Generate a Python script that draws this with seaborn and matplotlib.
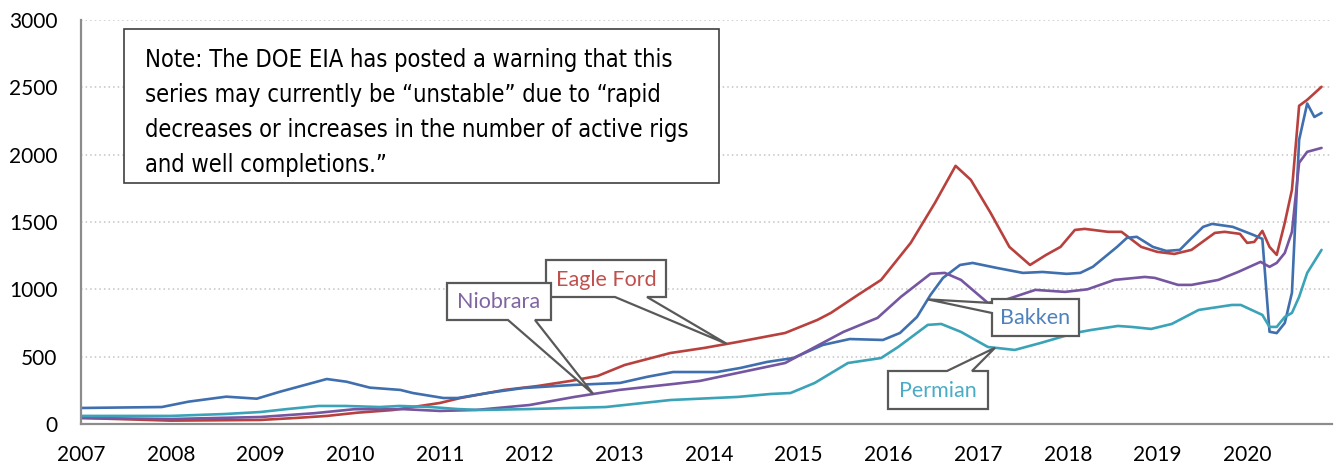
import numpy as np
import pandas as pd
import matplotlib
matplotlib.use("Agg")
import matplotlib.pyplot as plt
import seaborn as sns
from matplotlib import font_manager
from matplotlib.patches import Rectangle, Polygon

# ---------------- data ----------------
basins = ["Eagle Ford", "Bakken", "Niobrara", "Permian"]

eagle_t = [2007.0, 2008.0, 2009.0, 2009.4, 2009.74, 2010.08, 2010.48, 2010.78, 2011.0, 2011.23,
           2011.72, 2012.09, 2012.46, 2012.76, 2013.06, 2013.57, 2013.95, 2014.32, 2014.85, 2015.21,
           2015.36, 2015.66, 2015.92, 2016.25, 2016.52, 2016.75, 2016.92, 2017.14, 2017.35, 2017.58,
           2017.76, 2017.92, 2018.08, 2018.19, 2018.45, 2018.6, 2018.82, 2019.0, 2019.19, 2019.38,
           2019.64, 2019.75, 2019.92, 2020.0, 2020.08, 2020.17, 2020.25, 2020.33, 2020.42, 2020.5,
           2020.58, 2020.67, 2020.83]
eagle_v = [45, 25, 30, 45, 60, 84, 104, 134, 156, 193,
           253, 282, 320, 357, 438, 527, 565, 609, 676, 773,
           825, 958, 1070, 1345, 1642, 1917, 1813, 1568, 1315, 1181,
           1256, 1315, 1441, 1449, 1427, 1427, 1315, 1278, 1263, 1293,
           1419, 1427, 1412, 1345, 1352, 1434, 1315, 1256, 1494, 1739,
           2363, 2407, 2504]

bakken_t = [2007.0, 2007.9, 2008.2, 2008.62, 2008.96, 2009.22, 2009.74, 2009.96, 2010.22, 2010.56,
            2010.7, 2011.04, 2011.2, 2011.56, 2011.93, 2012.49, 2013.01, 2013.31, 2013.6, 2014.09,
            2014.35, 2014.65, 2014.94, 2015.27, 2015.57, 2015.94, 2016.13, 2016.32, 2016.47, 2016.61,
            2016.8, 2016.94, 2017.21, 2017.5, 2017.72, 2017.99, 2018.14, 2018.28, 2018.55, 2018.66,
            2018.77, 2018.95, 2019.1, 2019.25, 2019.36, 2019.51, 2019.61, 2019.84, 2020.07, 2020.17,
            2020.25, 2020.33, 2020.42, 2020.5, 2020.58, 2020.67, 2020.75, 2020.83]
bakken_v = [119, 126, 166, 203, 188, 240, 334, 314, 270, 253,
            230, 193, 193, 233, 267, 290, 305, 350, 386, 386,
            416, 461, 490, 587, 631, 624, 676, 795, 958, 1085,
            1181, 1196, 1159, 1122, 1129, 1115, 1122, 1167, 1315, 1382,
            1390, 1315, 1285, 1293, 1367, 1464, 1486, 1464, 1404, 1375,
            685, 675, 750, 975, 2110, 2380, 2280, 2310]

niobrara_t = [2007.0, 2008.0, 2009.0, 2009.6, 2010.05, 2010.6, 2011.0, 2011.4, 2012.0, 2012.5,
              2013.0, 2013.6, 2013.9, 2014.32, 2014.85, 2015.22, 2015.5, 2015.88, 2016.14, 2016.47,
              2016.63, 2016.81, 2017.11, 2017.3, 2017.64, 2017.97, 2018.22, 2018.52, 2018.86, 2018.97,
              2019.23, 2019.38, 2019.68, 2019.9, 2020.15, 2020.25, 2020.33, 2020.42, 2020.5, 2020.58,
              2020.67, 2020.83]
niobrara_v = [45, 37, 52, 80, 110, 110, 97, 104, 141, 201,
              253, 297, 320, 379, 453, 585, 684, 788, 944, 1115,
              1122, 1070, 899, 921, 996, 981, 1000, 1070, 1092, 1085,
              1033, 1033, 1070, 1129, 1204, 1167, 1196, 1270, 1427, 1940,
              2021, 2050]

permian_t = [2007.0, 2008.0, 2008.6, 2009.0, 2009.3, 2009.65, 2009.95, 2010.33, 2010.55, 2010.9,
             2011.2, 2011.45, 2012.0, 2012.85, 2013.57, 2014.32, 2014.69, 2014.91, 2015.18, 2015.55,
             2015.92, 2016.11, 2016.44, 2016.59, 2016.81, 2017.11, 2017.41, 2017.7, 2017.89, 2018.08,
             2018.26, 2018.56, 2018.71, 2018.93, 2019.16, 2019.46, 2019.68, 2019.83, 2019.93, 2020.17,
             2020.25, 2020.33, 2020.42, 2020.5, 2020.58, 2020.67, 2020.83]
permian_v = [60, 60, 74, 89, 111, 134, 134, 126, 134, 126,
             111, 104, 111, 126, 178, 201, 223, 230, 305, 453,
             490, 572, 736, 743, 684, 572, 550, 602, 639, 676,
             698, 728, 721, 706, 743, 847, 869, 884, 884, 810,
             721, 721, 795, 825, 944, 1122, 1293]

year_ticks = list(range(2007, 2021))
value_ticks = [0, 500, 1000, 1500, 2000, 2500, 3000]

note_lines = ["Note: The DOE EIA has posted a warning that this",
              "series may currently be \u201cunstable\u201d due to \u201crapid",
              "decreases or increases in the number of active rigs",
              "and well completions.\u201d"]

# ---------------- styling ----------------
line_colors = {"Eagle Ford": "#B8413E", "Bakken": "#3F6FAE",
               "Niobrara": "#7556A0", "Permian": "#3BA3B8"}
label_colors = {"Eagle Ford": "#C0504D", "Bakken": "#4F81BD",
                "Niobrara": "#8064A2", "Permian": "#4BACC6"}

W, H = 1336, 469
sns.set_theme(style="white")
plt.rcParams["font.family"] = ["Lato", "DejaVu Sans"]

# pick a condensed face for the note if one is installed
note_font = None
for key in ["LiberationSansNarrow-Regular", "DejaVuSansCondensed.", "RobotoCondensed-Regular",
            "OpenSans_Condensed-Regular", "NotoSans-Condensed.", "NotoSansDisplay-Condensed."]:
    for f in font_manager.fontManager.ttflist:
        if key.lower() in f.fname.lower().replace("\\", "/").split("/")[-1]:
            note_font = font_manager.FontProperties(fname=f.fname)
            break
    if note_font is not None:
        break
if note_font is None:
    note_font = font_manager.FontProperties(family="Roboto")

df = pd.concat([
    pd.DataFrame({"year": eagle_t, "value": eagle_v, "basin": "Eagle Ford"}),
    pd.DataFrame({"year": bakken_t, "value": bakken_v, "basin": "Bakken"}),
    pd.DataFrame({"year": niobrara_t, "value": niobrara_v, "basin": "Niobrara"}),
    pd.DataFrame({"year": permian_t, "value": permian_v, "basin": "Permian"}),
], ignore_index=True)

fig = plt.figure(figsize=(W / 100, H / 100), dpi=100)
fig.patch.set_facecolor("white")
ax = fig.add_axes([81 / W, 1 - 424 / H, (1332 - 81) / W, (424 - 20) / H])

sns.lineplot(data=df, x="year", y="value", hue="basin", hue_order=basins,
             palette=line_colors, linewidth=1.9, legend=False, ax=ax,
             estimator=None, sort=False)

ax.set_xlim(2007, 2007 + (1332 - 81) / 89.7)
ax.set_ylim(0, 3000)
ax.set_xticks(year_ticks)
ax.set_xticklabels([str(y) for y in year_ticks])
ax.set_yticks(value_ticks)
ax.set_yticklabels([str(v) for v in value_ticks])
ax.set_xlabel("")
ax.set_ylabel("")

ax.yaxis.grid(True, linestyle=(0, (1, 2)), color="#C4C4C4", linewidth=1.1)
ax.xaxis.grid(False)
for s in ["top", "right"]:
    ax.spines[s].set_visible(False)
for s in ["left", "bottom"]:
    ax.spines[s].set_color("#8C8C8C")
    ax.spines[s].set_linewidth(1.6)
ax.tick_params(axis="both", direction="out", color="#8C8C8C", width=1.5,
               labelsize=15, labelcolor="black")
ax.tick_params(axis="y", length=5, pad=12)
ax.tick_params(axis="x", length=5, pad=10)
ax.set_facecolor("white")


def fp(px, py):
    return (px / W, 1 - py / H)


# ---------------- note box ----------------
note_rect = Rectangle(fp(124, 183), (719 - 124) / W, (183 - 29) / H,
                      transform=fig.transFigure, facecolor="white",
                      edgecolor="#404040", linewidth=1.2, zorder=5)
fig.add_artist(note_rect)

# size the note font so the first line spans the same width as in the reference
renderer = fig.canvas.get_renderer()
probe = fig.text(0, 0, note_lines[0], fontproperties=note_font, fontsize=20)
w20 = probe.get_window_extent(renderer).width
probe.remove()
note_size = 20 * 527.0 / w20

for i, ln in enumerate(note_lines):
    t = fig.text(*fp(145, 67 + 35 * i), ln, ha="left", va="baseline",
                 fontproperties=note_font, fontsize=note_size, color="black", zorder=6)
    t.set_clip_path(note_rect)

# ---------------- callouts ----------------
fig.canvas.draw()
inv = fig.transFigure.inverted()


def tip_of(ts, vs, year):
    return inv.transform(ax.transData.transform((year, np.interp(year, ts, vs))))


def callout(name, box, side, base, tip):
    x0, y0, x1, y1 = box
    if side == "bottom":
        pts = [fp(x0, y0), fp(x1, y0), fp(x1, y1), fp(base[1], y1), tuple(tip),
               fp(base[0], y1), fp(x0, y1)]
    elif side == "left":
        pts = [fp(x0, y0), fp(x1, y0), fp(x1, y1), fp(x0, y1), fp(x0, base[1]),
               tuple(tip), fp(x0, base[0])]
    else:  # top
        pts = [fp(x0, y0), fp(base[0], y0), tuple(tip), fp(base[1], y0),
               fp(x1, y0), fp(x1, y1), fp(x0, y1)]
    poly = Polygon(pts, closed=True, transform=fig.transFigure, facecolor="white",
                   edgecolor="#595959", linewidth=1.6, zorder=7)
    fig.add_artist(poly)
    fig.text(*fp((x0 + x1) / 2, (y0 + y1) / 2 + 1), name, ha="center", va="center",
             fontsize=15.5, color=label_colors[name], zorder=8)


callout("Eagle Ford", (546, 260, 666, 297), "bottom", (615, 647),
        tip_of(eagle_t, eagle_v, 2014.2))
callout("Niobrara", (447, 283, 551, 320), "bottom", (508, 535),
        tip_of(niobrara_t, niobrara_v, 2012.71))
callout("Bakken", (992, 299, 1079, 336), "left", (303, 313),
        tip_of(bakken_t, bakken_v, 2016.44))
callout("Permian", (888, 371, 988, 409), "top", (947, 972),
        tip_of(permian_t, permian_v, 2017.19))

fig.savefig("out.png", dpi=100, facecolor="white")
